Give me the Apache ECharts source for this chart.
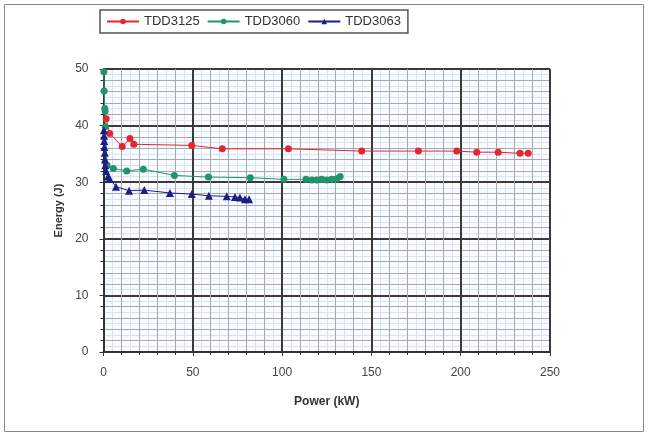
<!DOCTYPE html>
<html><head><meta charset="utf-8">
<script src="https://cdn.jsdelivr.net/npm/echarts@6/dist/echarts.min.js"></script>
<style>html,body{margin:0;padding:0;background:#fff}#c{width:648px;height:437px}</style>
</head><body><div id="c"></div>
<script>
const seriesNames = ['TDD3125', 'TDD3060', 'TDD3063'];
const tdd3125 = [[1.5,41.2],[3.5,38.6],[10.5,36.3],[14.8,37.7],[17,36.7],[49.4,36.5],[66.5,35.9],[103.5,35.9],[144.6,35.5],[176.3,35.5],[197.8,35.5],[209,35.3],[221,35.3],[233.2,35.1],[237.8,35.1]];
const tdd3060 = [[0.2,49.5],[0.4,46.1],[0.7,43.0],[0.9,42.6],[1.0,39.8],[2.0,33.0],[5.5,32.4],[13,32.0],[22.3,32.3],[39.7,31.2],[58.8,30.9],[82.2,30.8],[101,30.5],[113.4,30.5],[116.6,30.4],[119.4,30.4],[122.2,30.5],[125,30.4],[127.8,30.5],[130.6,30.6],[132.5,31.0]];
const tdd3063 = [[0.2,39.2],[0.3,38.2],[0.4,37.3],[0.5,36.2],[0.7,35.2],[0.8,34.0],[1.0,33.0],[1.5,32.0],[2.5,31.0],[3.5,30.6],[7,29.2],[14.3,28.5],[22.8,28.6],[37.2,28.1],[49.4,27.9],[59,27.6],[69,27.5],[73.6,27.4],[76.4,27.3],[79.2,27.0],[81.5,27.0]];
const xTicks = [0, 50, 100, 150, 200, 250];
const yTicks = [0, 10, 20, 30, 40, 50];

const chart = echarts.init(document.getElementById('c'));
const font = 'Liberation Sans, Arial, sans-serif';
function hiddenAxis(interval, color, z, isX) {
  return {
    type: 'value', min: 0, max: isX ? xTicks[xTicks.length-1] : yTicks[yTicks.length-1], interval: interval, z: z,
    axisLine: {show: false}, axisTick: {show: false}, axisLabel: {show: false},
    splitLine: {show: true, lineStyle: {color: color, width: 1}}
  };
}
chart.setOption({
  animation: false,
  backgroundColor: '#fff',
  graphic: [{type: 'rect', shape: {x: 4.5, y: 4.5, width: 639, height: 427}, style: {fill: 'none', stroke: '#888', lineWidth: 1}, z: -10}],
  legend: {
    left: 100, top: 10, padding: [5, 7, 5, 6], itemGap: 7, itemWidth: 32, itemHeight: 7,
    borderColor: '#555', borderWidth: 1.5, backgroundColor: '#fff',
    textStyle: {fontFamily: font, fontSize: 13, color: '#333'},
    data: seriesNames
  },
  grid: {left: 103.5, right: 98, top: 69, bottom: 85, show: true, backgroundColor: '#f9fbff', borderWidth: 0},
  xAxis: [
    {type: 'value', min: xTicks[0], max: xTicks[xTicks.length-1], interval: 50, z: 3,
     name: 'Power (kW)', nameLocation: 'middle', nameGap: 44,
     nameTextStyle: {fontFamily: font, fontWeight: 'bold', fontSize: 12, color: '#333'},
     axisLine: {show: true, lineStyle: {color: '#333', width: 2}},
     axisTick: {show: true, length: 4, lineStyle: {color: '#333'}},
     minorTick: {show: true, splitNumber: 5, length: 3, lineStyle: {color: '#333'}},
     axisLabel: {fontFamily: font, fontSize: 12, color: '#444', margin: 15},
     splitLine: {show: true, lineStyle: {color: '#3a3a3a', width: 2}},
     minorSplitLine: {show: true, lineStyle: {color: '#a4aab4', width: 1}}},
    hiddenAxis(5, '#d6e5f5', 1, true)
  ],
  yAxis: [
    {type: 'value', min: yTicks[0], max: yTicks[yTicks.length-1], interval: 10, z: 3,
     name: 'Energy (J)', nameLocation: 'middle', nameGap: 38, nameRotate: 90,
     nameTextStyle: {fontFamily: font, fontWeight: 'bold', fontSize: 11, color: '#333'},
     axisLine: {show: true, lineStyle: {color: '#333', width: 2}},
     axisTick: {show: true, length: 4, lineStyle: {color: '#333'}},
     minorTick: {show: true, splitNumber: 5, length: 3, lineStyle: {color: '#333'}},
     axisLabel: {fontFamily: font, fontSize: 12, color: '#444', margin: 15},
     splitLine: {show: true, lineStyle: {color: '#3a3a3a', width: 2}},
     minorSplitLine: {show: true, lineStyle: {color: '#a4aab4', width: 1}}},
    hiddenAxis(1, '#d6e5f5', 1, false)
  ],
  series: [
    {name: seriesNames[0], type: 'line', data: tdd3125, xAxisIndex: 0, yAxisIndex: 0, z: 5,
     symbol: 'circle', symbolSize: 7, itemStyle: {color: '#e3262f'}, lineStyle: {color: '#e3262f', width: 1}},
    {name: seriesNames[1], type: 'line', data: tdd3060, xAxisIndex: 0, yAxisIndex: 0, z: 5,
     symbol: 'circle', symbolSize: 7, itemStyle: {color: '#23946a'}, lineStyle: {color: '#23946a', width: 1}},
    {name: seriesNames[2], type: 'line', data: tdd3063, xAxisIndex: 0, yAxisIndex: 0, z: 5,
     symbol: 'triangle', symbolSize: 8, itemStyle: {color: '#1c1d86'}, lineStyle: {color: '#1c1d86', width: 1}}
  ]
});
</script></body></html>
